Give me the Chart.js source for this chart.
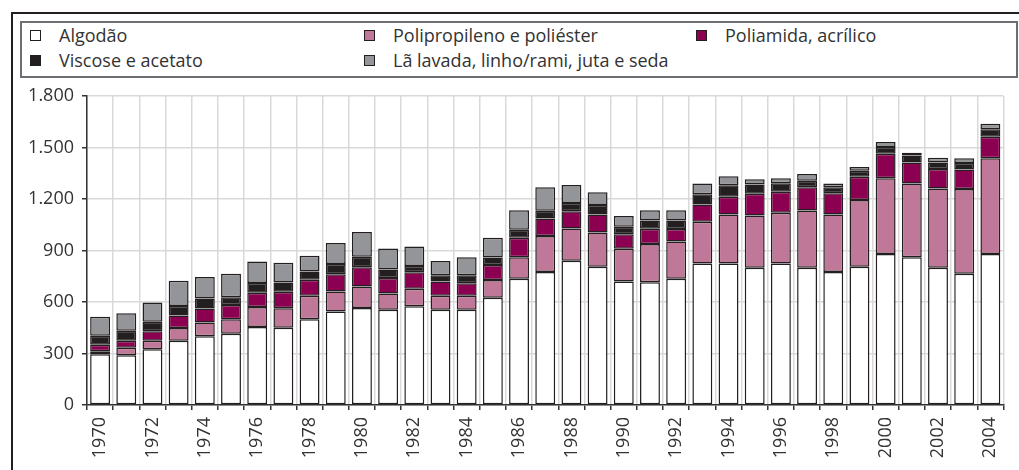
<!DOCTYPE html>
<html>
<head>
<meta charset="utf-8">
<script src="https://cdn.jsdelivr.net/npm/chart.js@4/dist/chart.umd.min.js"></script>
<style>
  html, body { margin: 0; padding: 0; background: #fff; }
  body { width: 1019px; height: 470px; position: relative; overflow: hidden; font-family: "Open Sans", sans-serif; }
  #frame { position: absolute; left: 11px; top: 12px; width: 1100px; height: 600px; border: 2px solid #231f20; box-sizing: border-box; }
  #legend { position: absolute; left: 20px; top: 21px; width: 998px; height: 57px; border: 2px solid #6d6e71; box-sizing: border-box; }
  .item { position: absolute; font-size: 18px; color: #333; line-height: 22px; white-space: nowrap; }
  .item span.box { position: absolute; left: 0; top: 6px; width: 9px; height: 9px; border: 1.5px solid #231f20; }
  .item span.txt { position: absolute; left: 29px; top: 0; }
  #wrap { position: absolute; left: 0; top: 0; width: 1019px; height: 470px; }
</style>
</head>
<body>
<div id="frame"></div>
<div id="legend"></div>
<div id="wrap"><canvas id="chart"></canvas></div>
<script>
// years 1970..2004
const years = ['1970','1971','1972','1973','1974','1975','1976','1977','1978','1979',
  '1980','1981','1982','1983','1984','1985','1986','1987','1988','1989',
  '1990','1991','1992','1993','1994','1995','1996','1997','1998','1999',
  '2000','2001','2002','2003','2004'];

const algodao = [295,290,325,375,400,415,455,450,500,545,
  565,555,575,555,555,625,735,775,840,805,
  720,715,735,825,825,800,825,800,775,805,
  880,860,800,765,880];
const polipropileno = [18,43,50,74,81,85,116,114,136,116,
  126,94,102,81,81,103,125,209,188,200,
  190,223,218,242,285,304,295,333,335,389,
  441,430,461,493,557];
const poliamida = [38,41,54,72,81,82,83,95,93,101,
  112,91,97,83,73,87,115,103,100,104,
  85,89,72,101,103,126,122,136,124,136,
  143,122,114,114,126];
const viscose = [53,58,56,56,58,46,56,54,48,60,
  60,49,35,37,47,44,46,44,49,56,
  44,48,50,60,67,54,50,37,35,35,
  39,41,37,37,44];
const la = [110,102,112,147,126,136,126,116,93,122,
  145,122,114,83,104,116,114,138,104,74,
  62,60,60,62,53,31,29,40,21,21,
  29,17,29,29,31];

const seriesNames = ['Algodão', 'Polipropileno e poliéster', 'Poliamida, acrílico',
  'Viscose e acetato', 'Lã lavada, linho/rami, juta e seda'];
const seriesColors = ['#ffffff', '#c07898', '#8b0050', '#231f20', '#939598'];
const seriesData = [algodao, polipropileno, poliamida, viscose, la];

// legend positions (3 columns, 2 rows)
const legendPos = [[30, 24], [364, 24], [696, 24], [30, 49], [364, 49]];
const legend = document.getElementById('legend');
seriesNames.forEach((name, i) => {
  const it = document.createElement('div');
  it.className = 'item';
  it.style.left = (legendPos[i][0] - 22) + 'px';
  it.style.top = (legendPos[i][1] - 23) + 'px';
  it.innerHTML = '<span class="box" style="background:' + seriesColors[i] + '"></span><span class="txt">' + name + '</span>';
  legend.appendChild(it);
});

const datasets = seriesNames.map((name, i) => ({
  label: name,
  data: seriesData[i],
  backgroundColor: seriesColors[i],
  borderColor: '#231f20',
  borderWidth: 1.5,
  borderSkipped: false,
  categoryPercentage: 1,
  barPercentage: 0.76,
}));

Chart.defaults.font.family = '"Open Sans", sans-serif';
Chart.defaults.color = '#333';

new Chart(document.getElementById('chart').getContext('2d'), {
  type: 'bar',
  data: { labels: years, datasets: datasets },
  options: {
    responsive: true,
    maintainAspectRatio: false,
    animation: false,
    layout: { padding: { top: 96, right: 2, left: 0, bottom: 0 } },
    plugins: { legend: { display: false }, tooltip: { enabled: false } },
    scales: {
      x: {
        stacked: true,
        afterFit: (s) => { s.height = 65; },
        grid: { color: '#d9d9d9', lineWidth: 1.5, tickColor: '#333', tickLength: 5 },
        border: { color: '#333', width: 1.5 },
        ticks: {
          autoSkip: false,
          minRotation: 90,
          maxRotation: 90,
          padding: 7,
          font: { size: 18 },
          callback: function (v, i) { return i % 2 === 0 ? this.getLabelForValue(v) : ''; }
        }
      },
      y: {
        stacked: true,
        min: 0,
        max: 1800,
        afterFit: (s) => { s.width = 87; },
        grid: { color: '#d9d9d9', lineWidth: 1.5, tickColor: '#333', tickLength: 5 },
        border: { color: '#333', width: 1.5 },
        ticks: {
          stepSize: 300,
          padding: 8,
          font: { size: 18 },
          callback: (v) => v.toLocaleString('pt-BR')
        }
      }
    }
  }
});
</script>
</body>
</html>
